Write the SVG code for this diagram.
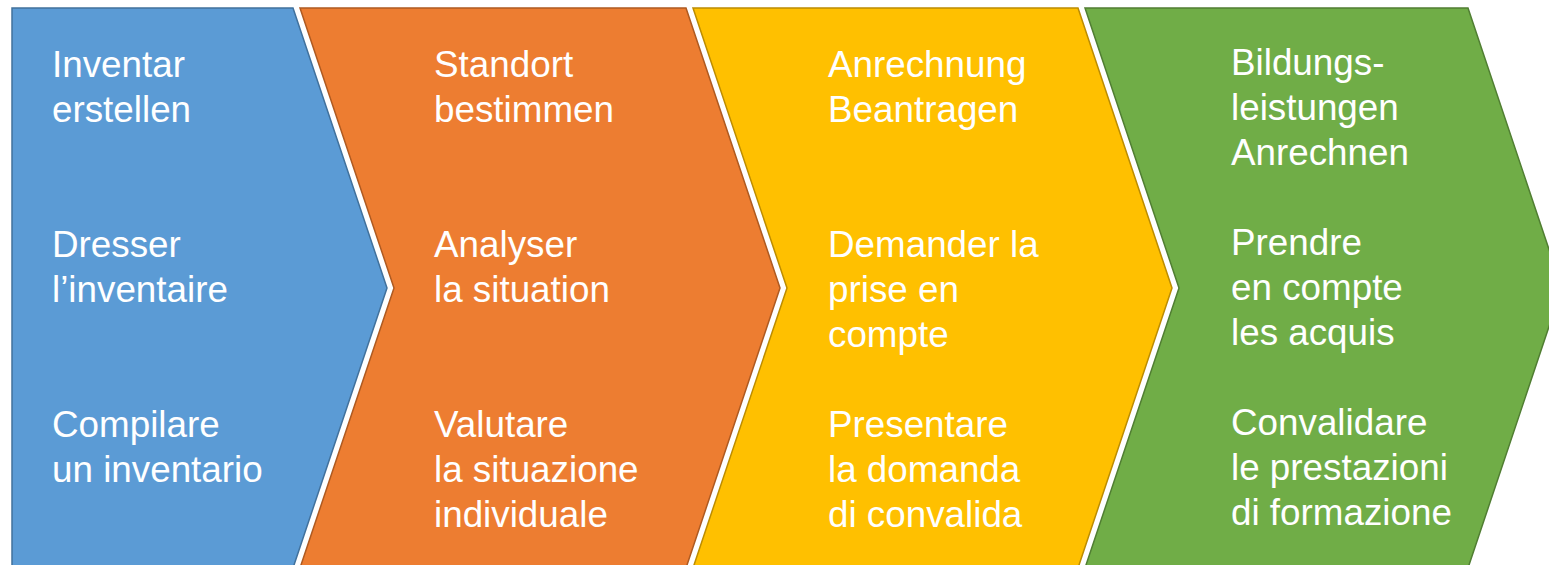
<svg xmlns="http://www.w3.org/2000/svg" width="1549" height="565" viewBox="0 0 1549 565">
<style>
.s{stroke-width:1.5;stroke-linejoin:miter}
.b{fill:#5B9BD5;stroke:#41719C}
.o{fill:#ED7D31;stroke:#AE5A21}
.y{fill:#FFC000;stroke:#BC8C00}
.g{fill:#70AD47;stroke:#507E32}
text{font-family:"Liberation Sans",Arial,sans-serif;font-size:36.8px;fill:#FFFFFF}
</style>
<rect width="1549" height="565" fill="#FFFFFF"/>
<g id="step1">
<polygon class="s b" points="12,8 293,8 387,288 293,568 12,568"/>
<text x="52" y="77">Inventar</text>
<text x="52" y="122">erstellen</text>
<text x="52" y="257">Dresser</text>
<text x="52" y="302">l’inventaire</text>
<text x="52" y="437">Compilare</text>
<text x="52" y="482">un inventario</text>
</g>
<g id="step2">
<polygon class="s o" points="300,8 686,8 780,288 686,568 300,568 394,288"/>
<text x="434" y="77">Standort</text>
<text x="434" y="122">bestimmen</text>
<text x="434" y="257">Analyser</text>
<text x="434" y="302">la situation</text>
<text x="434" y="437">Valutare</text>
<text x="434" y="482">la situazione</text>
<text x="434" y="527">individuale</text>
</g>
<g id="step3">
<polygon class="s y" points="693,8 1078,8 1172,288 1078,568 693,568 787,288"/>
<text x="828" y="77">Anrechnung</text>
<text x="828" y="122">Beantragen</text>
<text x="828" y="257">Demander la</text>
<text x="828" y="302">prise en</text>
<text x="828" y="347">compte</text>
<text x="828" y="437">Presentare</text>
<text x="828" y="482">la domanda</text>
<text x="828" y="527">di convalida</text>
</g>
<g id="step4">
<polygon class="s g" points="1085,8 1468,8 1562,288 1468,568 1085,568 1179,288"/>
<text x="1231" y="75">Bildungs-</text>
<text x="1231" y="120">leistungen</text>
<text x="1231" y="165">Anrechnen</text>
<text x="1231" y="255">Prendre</text>
<text x="1231" y="300">en compte</text>
<text x="1231" y="345">les acquis</text>
<text x="1231" y="435">Convalidare</text>
<text x="1231" y="480">le prestazioni</text>
<text x="1231" y="525">di formazione</text>
</g>
<g id="connectors"/>
</svg>
